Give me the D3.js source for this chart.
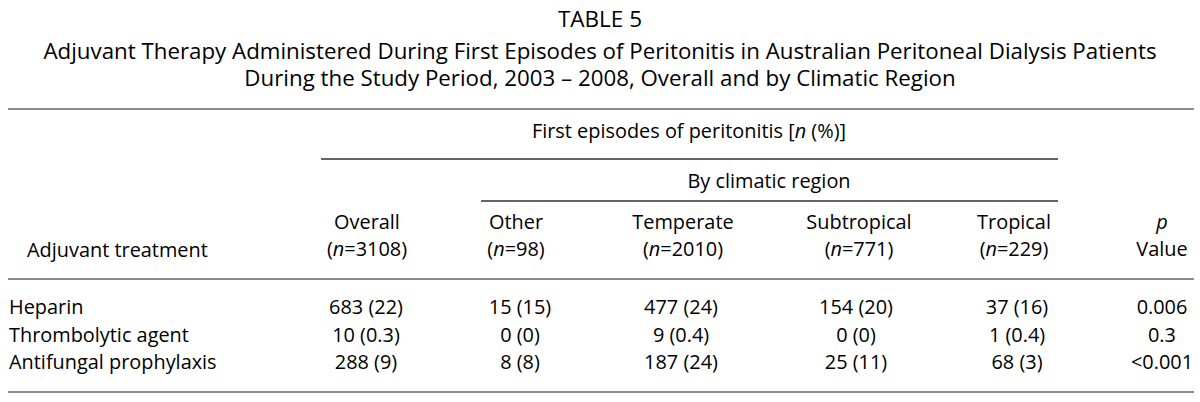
<!DOCTYPE html>
<html>
<head>
<meta charset="utf-8">
<script src="https://cdn.jsdelivr.net/npm/d3@7"></script>
<style>
  body { margin: 0; background: #fff; }
  text { font-family: "Open Sans", Roboto, sans-serif; fill: #000; }
</style>
</head>
<body>
<script>
// table content
var titleLines = [
  "TABLE 5",
  "Adjuvant Therapy Administered During First Episodes of Peritonitis in Australian Peritoneal Dialysis Patients",
  "During the Study Period, 2003 \u2013 2008, Overall and by Climatic Region"
];
var treatments = ["Heparin", "Thrombolytic agent", "Antifungal prophylaxis"];
var groups = ["Overall", "Other", "Temperate", "Subtropical", "Tropical"];
var groupN = [3108, 98, 2010, 771, 229];

var overallN = [683, 10, 288], overallPct = [22, 0.3, 9];
var otherN = [15, 0, 8], otherPct = [15, 0, 8];
var temperateN = [477, 9, 187], temperatePct = [24, 0.4, 24];
var subtropicalN = [154, 0, 25], subtropicalPct = [20, 0, 11];
var tropicalN = [37, 1, 68], tropicalPct = [16, 0.4, 3];
var pValues = ["0.006", "0.3", "<0.001"];

var counts = [overallN, otherN, temperateN, subtropicalN, tropicalN];
var pcts = [overallPct, otherPct, temperatePct, subtropicalPct, tropicalPct];

var width = 1200, height = 402;

var svg = d3.select("body").append("svg")
    .attr("width", width)
    .attr("height", height);

// column centres
var colX = d3.scaleOrdinal()
    .domain(groups.concat(["p"]))
    .range([367, 516, 683, 859, 1014, 1162]);
var cellX = d3.scaleOrdinal()
    .domain(groups.concat(["p"]))
    .range([366, 520, 681, 856, 1017, 1162]);

// row baselines
var rowY = d3.scalePoint()
    .domain(treatments)
    .range([314, 369]);

// title
svg.selectAll(".title")
    .data(titleLines)
    .enter().append("text")
    .attr("class", "title")
    .attr("x", width / 2)
    .attr("y", function(d, i) { return [27, 59, 86][i]; })
    .attr("text-anchor", "middle")
    .style("font-size", function(d, i) { return i == 0 ? "22.5px" : "22.3px"; })
    .text(function(d) { return d; });

// rules
function rule(x1, x2, y, color, w) {
  svg.append("line")
    .attr("x1", x1).attr("x2", x2)
    .attr("y1", y).attr("y2", y)
    .style("stroke", color)
    .style("stroke-width", w);
}
rule(8, 1194, 109, "#8c8c8c", 2);
rule(321, 1058, 159, "#333", 1.5);
rule(481, 1058, 201, "#333", 1.5);
rule(8, 1194, 279, "#8c8c8c", 2);
rule(8, 1194, 392, "#8c8c8c", 2);

var head = svg.append("g").style("font-size", "19.9px");

// spanning headers
var span1 = head.append("text")
    .attr("x", 689).attr("y", 138)
    .attr("text-anchor", "middle");
span1.append("tspan").text("First episodes of peritonitis [");
span1.append("tspan").style("font-style", "italic").text("n");
span1.append("tspan").text(" (%)]");

head.append("text")
    .attr("x", 769).attr("y", 188)
    .attr("text-anchor", "middle")
    .text("By climatic region");

// column headers
head.selectAll(".colname")
    .data(groups)
    .enter().append("text")
    .attr("class", "colname")
    .attr("x", function(d) { return colX(d); })
    .attr("y", 229)
    .attr("text-anchor", "middle")
    .text(function(d) { return d; });

var nText = head.selectAll(".coln")
    .data(groupN)
    .enter().append("text")
    .attr("class", "coln")
    .attr("x", function(d, i) { return colX(groups[i]); })
    .attr("y", 256)
    .attr("text-anchor", "middle");
nText.append("tspan").text("(");
nText.append("tspan").style("font-style", "italic").text("n");
nText.append("tspan").text(function(d) { return "=" + d + ")"; });

head.append("text")
    .attr("x", colX("p")).attr("y", 229)
    .attr("text-anchor", "middle")
    .style("font-style", "italic")
    .text("p");
head.append("text")
    .attr("x", colX("p")).attr("y", 256)
    .attr("text-anchor", "middle")
    .text("Value");

head.append("text")
    .attr("x", 27).attr("y", 257)
    .text("Adjuvant treatment");

// body rows
var body = svg.append("g").style("font-size", "19.9px");

body.selectAll(".rowname")
    .data(treatments)
    .enter().append("text")
    .attr("class", "rowname")
    .attr("x", 9)
    .attr("y", function(d) { return rowY(d); })
    .text(function(d) { return d; });

groups.forEach(function(g, j) {
  body.selectAll(".cell" + j)
    .data(treatments)
    .enter().append("text")
    .attr("x", cellX(g))
    .attr("y", function(d) { return rowY(d); })
    .attr("text-anchor", "middle")
    .text(function(d, i) { return counts[j][i] + " (" + pcts[j][i] + ")"; });
});

body.selectAll(".pval")
    .data(treatments)
    .enter().append("text")
    .attr("x", cellX("p"))
    .attr("y", function(d) { return rowY(d); })
    .attr("text-anchor", "middle")
    .text(function(d, i) { return pValues[i]; });
</script>
</body>
</html>
